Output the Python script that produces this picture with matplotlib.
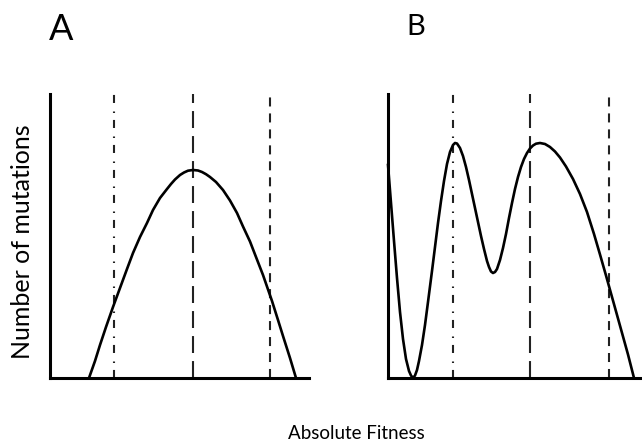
import matplotlib.pyplot as plt
import numpy as np

plt.rcParams['font.family'] = ['Lato', 'DejaVu Sans']
plt.rcParams['lines.scale_dashes'] = False

# Panel A: single-peaked distribution (x = fitness, y = number of mutations)
a_x = [39, 45, 50, 56, 63, 70, 77, 83, 90, 97, 103, 110, 117, 121, 125, 130, 134, 138,
       143, 148, 152, 156, 160, 166, 173, 180, 187, 193, 200, 206, 213, 222, 228, 233,
       240, 246]
a_y = [0, 17, 33, 51, 71, 90, 109, 125, 141, 155, 168, 180, 189, 194, 198.5, 203, 205.5,
       207.3, 208, 207.5, 206, 203.8, 201, 196, 188, 177.5, 165, 151.5, 136.5, 121, 103,
       77, 58, 42, 20, 0]
a_lines = [64, 143, 220]

# Panel B: multi-peaked distribution
b_x = [0, 3, 6, 9, 12, 15, 18, 21, 23, 25, 27, 29, 31, 34, 37, 40, 44, 47, 50, 53, 56,
       59, 62, 65, 67, 69, 72, 75, 78, 81, 84, 87, 90, 93, 96, 99, 101, 103, 105, 107,
       109, 112, 115, 118, 121, 124, 127, 130, 133, 136, 139, 142, 145, 148, 152, 157,
       162, 167, 172, 178, 185, 192, 199, 206, 212, 218, 224, 230, 235, 240, 246]
b_y = [213, 175, 137, 100, 66, 39, 19, 7, 2.5, 0, 2.5, 8, 17, 33, 53, 76, 107, 131, 155,
       177, 197, 214, 226, 233, 235, 234.5, 230, 222, 211, 198, 184, 170, 156, 142, 129,
       117, 111, 106.5, 105, 106, 109, 118, 130, 144, 160, 175, 189, 201, 211, 219, 225,
       229.5, 232.5, 234.3, 235, 234, 231, 226.5, 220.5, 211.5, 199, 184, 166, 144, 123.5,
       102.5, 81, 59.5, 41.5, 23.5, 0]
b_lines = [65, 142, 221]

line_styles = [(0, (5.8, 5.0, 1.1, 6.1)), (0, (12.2, 5.8)), (0, (6.5, 5.0))]

W, H = 642, 442
fig = plt.figure(figsize=(W / 100, H / 100), dpi=100)


def make_panel(left, right, xs, ys, vlines):
    ax = fig.add_axes([left / W, (H - 378) / H, (right - left) / W, (378 - 94) / H])
    ax.set_xlim(0, right - left)
    ax.set_ylim(0, 284)
    for xv, ls in zip(vlines, line_styles):
        ax.plot([xv, xv], [0, 284], color='#222222', lw=1.5, linestyle=ls,
                solid_capstyle='butt', dash_capstyle='butt', zorder=2)
    ax.plot(xs, ys, color='black', lw=1.9, solid_joinstyle='round', zorder=3,
            clip_on=False)
    for s in ['top', 'right']:
        ax.spines[s].set_visible(False)
    for s in ['left', 'bottom']:
        ax.spines[s].set_linewidth(2.2)
        ax.spines[s].set_color('black')
    ax.set_xticks([])
    ax.set_yticks([])
    ax.patch.set_alpha(0)
    return ax


make_panel(50, 309, a_x, a_y, a_lines)
make_panel(388, 642, b_x, b_y, b_lines)

fig.text(61 / W, 1 - 40 / H, 'A', fontsize=26, ha='center', va='baseline')
fig.text(416 / W, 1 - 35 / H, 'B', fontsize=21, ha='center', va='baseline')
fig.text(23 / W, 1 - 242 / H, 'Number of mutations', fontsize=18, rotation=90,
         ha='center', va='center')
fig.text(356.5 / W, 1 - 439 / H, 'Absolute Fitness', fontsize=13.5, ha='center',
         va='baseline')

fig.savefig('out.png', dpi=100)
